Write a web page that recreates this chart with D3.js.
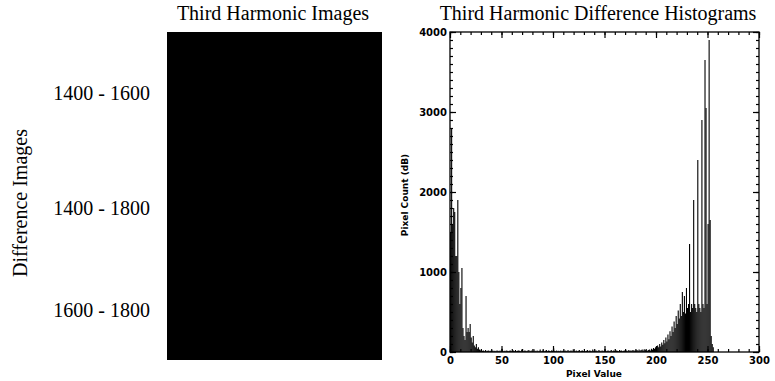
<!DOCTYPE html>
<html><head><meta charset="utf-8">
<script src="https://cdn.jsdelivr.net/npm/d3@7"></script>
<style>body{margin:0;background:#fff}svg{display:block}</style>
</head><body><svg id="c" width="775" height="381"></svg>
<script>
const panelTitles = ["Third Harmonic Images", "Third Harmonic Difference Histograms"];
const rowLabels = ["1400 - 1600", "1400 - 1800", "1600 - 1800"];
const rowAxisTitle = "Difference Images";
const xTicks = [0, 50, 100, 150, 200, 250, 300];
const yTicks = [0, 1000, 2000, 3000, 4000];
const xTitle = "Pixel Value";
const yTitle = "Pixel Count (dB)";
// pixel counts per pixel value 0..255
const counts = [
 1500,2800,1600,1800,1750,1200,1200,1900,1000,600,
 800,1050,300,200,150,700,250,300,250,350,
 180,120,200,80,60,100,40,60,30,20,
 30,15,20,10,25,10,15,20,10,15,
 10,20,10,15,10,20,15,10,20,10,
 40,10,15,10,20,15,10,15,20,10,
 15,20,10,25,10,15,20,15,10,30,
 15,10,20,15,10,20,25,10,15,20,
 10,35,15,10,20,10,15,30,10,15,
 20,10,15,25,10,20,15,10,20,15,
 50,15,10,20,10,15,10,20,10,15,
 10,20,15,10,25,10,15,20,10,30,
 15,10,20,10,15,25,10,15,20,10,
 20,10,15,25,10,20,15,10,30,15,
 10,20,15,10,25,15,10,20,15,10,
 35,10,15,20,10,15,25,10,20,15,
 10,20,15,10,25,15,20,10,15,20,
 15,20,10,25,15,20,15,25,20,15,
 20,25,15,30,20,25,30,20,35,25,
 20,15,25,30,20,40,30,50,40,60,
 50,80,60,100,70,120,90,150,110,180,
 130,220,160,260,200,320,250,380,300,450,
 350,520,420,600,450,750,500,700,480,800,
 550,600,1350,500,600,550,1900,600,550,500,
 2400,600,550,500,2900,600,550,3650,3050,600,
 1600,3900,1650,200,100,60
];

const svg = d3.select("#c");
const serif = "'Liberation Serif','Times New Roman',serif";
const sans = "'DejaVu Sans',sans-serif";

// Left panel: image + labels
const rows = d3.scaleBand().domain(rowLabels).range([32, 360]);
svg.append("text").attr("x", 273).attr("y", 20).attr("text-anchor", "middle")
  .attr("font-family", serif).attr("font-size", 20).text(panelTitles[0]);
svg.append("rect").attr("x", 167).attr("y", rows.range()[0]).attr("width", 215)
  .attr("height", rows.range()[1] - rows.range()[0]).attr("fill", "#000");
const rowY = {"1400 - 1600": 100, "1400 - 1800": 215, "1600 - 1800": 317};
svg.selectAll("text.row").data(rowLabels).join("text").attr("class", "row")
  .attr("x", 150).attr("y", d => rowY[d]).attr("text-anchor", "end")
  .attr("font-family", serif).attr("font-size", 20).text(d => d);
svg.append("text").attr("transform", "translate(27,203) rotate(-90)")
  .attr("text-anchor", "middle").attr("font-family", serif).attr("font-size", 20)
  .text(rowAxisTitle);

// Right panel: histogram
const x = d3.scaleLinear().domain([0, 300]).range([450, 759]);
const y = d3.scaleLinear().domain([0, 4000]).range([352, 32]);
svg.append("text").attr("x", 598).attr("y", 20).attr("text-anchor", "middle")
  .attr("font-family", serif).attr("font-size", 20).text(panelTitles[1]);

svg.append("g").selectAll("line").data(counts).join("line")
  .attr("x1", (d, i) => x(i) + 0.6).attr("x2", (d, i) => x(i) + 0.6)
  .attr("y1", y(0)).attr("y2", d => y(d))
  .attr("stroke", "#000").attr("stroke-width", 1.1);

function styleAxis(g) {
  g.select(".domain").remove();
  g.selectAll("line").attr("stroke", "#000").attr("stroke-width", 1.2);
  g.selectAll("text").attr("font-family", sans).attr("font-size", 10).attr("font-weight", "bold").attr("fill", "#000");
}
const xMinor = d3.range(0, 301, 10);
const yMinor = d3.range(0, 4001, 100);
// bottom
svg.append("g").attr("transform", `translate(0,${y(0)})`)
  .call(d3.axisBottom(x).tickValues(xMinor).tickSize(-3).tickFormat(""))
  .call(styleAxis);
svg.append("g").attr("transform", `translate(0,${y(0)})`)
  .call(d3.axisBottom(x).tickValues(xTicks).tickSize(-6).tickPadding(5).tickFormat(d3.format("d")))
  .call(styleAxis);
// top
svg.append("g").attr("transform", `translate(0,${y(4000)})`)
  .call(d3.axisTop(x).tickValues(xMinor).tickSize(-3).tickFormat(""))
  .call(styleAxis);
svg.append("g").attr("transform", `translate(0,${y(4000)})`)
  .call(d3.axisTop(x).tickValues(xTicks).tickSize(-6).tickFormat(""))
  .call(styleAxis);
// left
svg.append("g").attr("transform", `translate(${x(0)},0)`)
  .call(d3.axisLeft(y).tickValues(yMinor).tickSize(-3).tickFormat(""))
  .call(styleAxis);
svg.append("g").attr("transform", `translate(${x(0)},0)`)
  .call(d3.axisLeft(y).tickValues(yTicks).tickSize(-6).tickPadding(3).tickFormat(d3.format("d")))
  .call(styleAxis);
// right
svg.append("g").attr("transform", `translate(${x(300)},0)`)
  .call(d3.axisRight(y).tickValues(yMinor).tickSize(-3).tickFormat(""))
  .call(styleAxis);
svg.append("g").attr("transform", `translate(${x(300)},0)`)
  .call(d3.axisRight(y).tickValues(yTicks).tickSize(-6).tickFormat(""))
  .call(styleAxis);
// frame
svg.append("rect").attr("x", x(0)).attr("y", y(4000)).attr("width", x(300) - x(0))
  .attr("height", y(0) - y(4000)).attr("fill", "none").attr("stroke", "#000").attr("stroke-width", 1.3);

svg.append("text").attr("x", 594).attr("y", 377).attr("text-anchor", "middle")
  .attr("font-family", sans).attr("font-size", 9).attr("font-weight", "bold").text(xTitle);
svg.append("text").attr("transform", "translate(408,195) rotate(-90)")
  .attr("text-anchor", "middle").attr("font-family", sans).attr("font-size", 9).attr("font-weight", "bold").text(yTitle);
</script></body></html>
